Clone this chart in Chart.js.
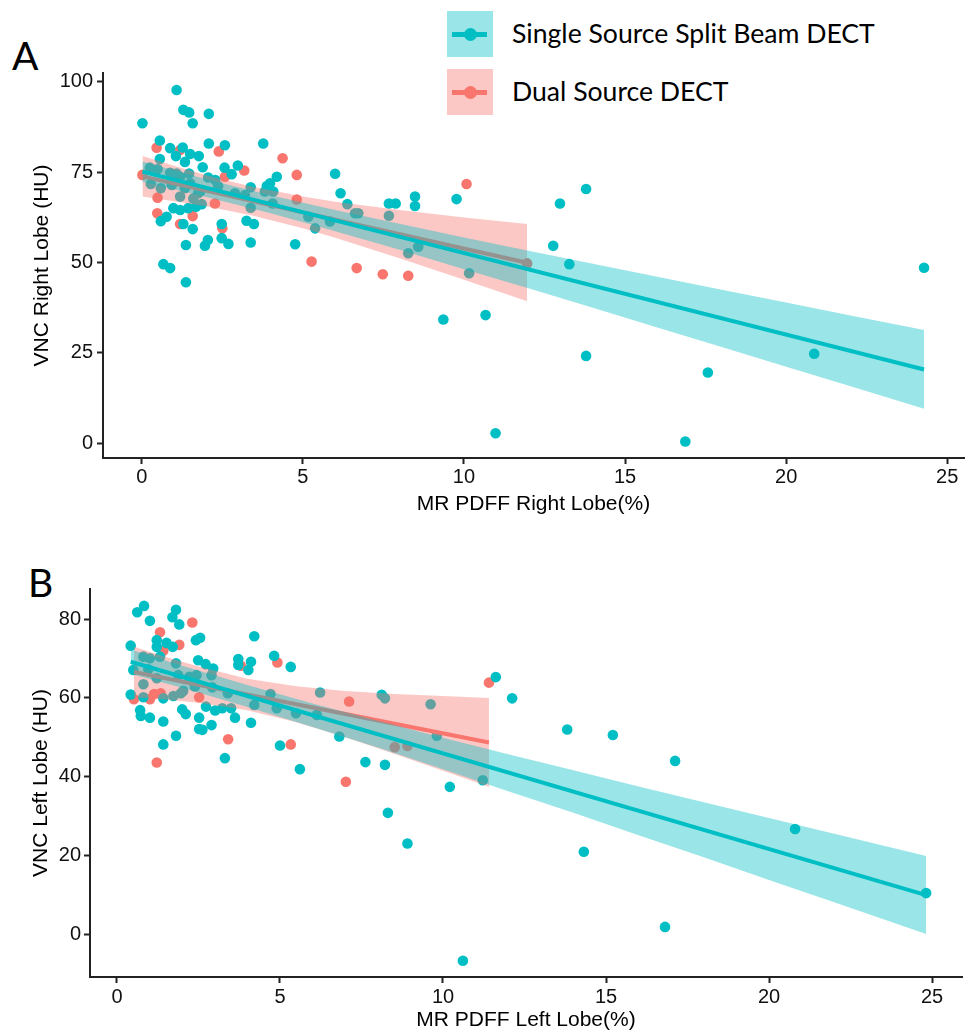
<!DOCTYPE html>
<html><head><meta charset="utf-8">
<script src="https://cdn.jsdelivr.net/npm/chart.js@4.4.0/dist/chart.umd.min.js"></script>
<style>
html,body{margin:0;padding:0;background:#fff;}
body{width:972px;height:1035px;position:relative;overflow:hidden;}
canvas{position:absolute;left:0;}
#cA{top:0px;} #cB{top:530px;}
.panel{position:absolute;font-family:Lato,sans-serif;font-size:39px;line-height:1.2;color:#000;}
.lgbox{position:absolute;left:447px;width:46px;height:46px;}
.lgline{position:absolute;left:5px;width:35px;height:5px;top:20.5px;}
.lgdot{position:absolute;left:16.5px;top:16.5px;width:13px;height:13px;border-radius:50%;}
.lgtxt{position:absolute;left:512px;font-family:Lato,sans-serif;font-size:26.6px;line-height:1.2;white-space:nowrap;color:#000;}
</style></head>
<body>
<div class="panel" style="left:12px;top:31.5px;">A</div>
<div class="panel" style="left:28px;top:558.5px;">B</div>
<div class="lgbox" style="top:11px;background:rgb(153,229,231);"><div class="lgline" style="background:#00BFC4"></div><div class="lgdot" style="background:#00BFC4"></div></div>
<div class="lgbox" style="top:69px;background:rgb(252,200,197);"><div class="lgline" style="background:#F8766D"></div><div class="lgdot" style="background:#F8766D"></div></div>
<div class="lgtxt" style="top:17.5px;">Single Source Split Beam DECT</div>
<div class="lgtxt" style="top:75.5px;">Dual Source DECT</div>
<canvas id="cA" width="972" height="530"></canvas>
<canvas id="cB" width="972" height="505"></canvas>
<script>
// ---------- Data ----------
const seriesNames = ['Single Source Split Beam DECT', 'Dual Source DECT'];
const xTicks = [0, 5, 10, 15, 20, 25];
const yTicksA = [0, 25, 50, 75, 100];
const yTicksB = [0, 20, 40, 60, 80];

// Panel A: right lobe
const aSingleX = [1.08,0.02,1.29,1.47,1.58,2.08,0.56,0.88,1.27,1.50,1.06,1.77,2.08,2.58,3.77,0.56,1.34,1.89,2.57,2.98,2.79,2.06,1.47,0.25,0.49,0.88,1.08,1.19,0.28,0.59,0.93,1.34,1.50,2.37,1.81,1.19,1.60,1.75,1.86,0.98,1.19,1.44,1.68,0.77,0.59,1.29,1.58,2.48,2.48,2.69,2.05,1.96,1.37,0.67,0.88,1.37,3.38,3.25,3.48,3.38,3.38,2.89,3.20,2.28,3.88,3.98,4.08,3.82,4.19,4.06,4.76,6.00,6.17,6.38,6.62,6.72,5.84,5.38,5.17,7.67,7.88,7.67,8.48,8.48,8.27,8.58,9.77,10.16,12.77,13.27,12.98,9.36,10.67,10.98,13.79,13.79,17.57,16.87,20.87,24.28];
const aSingleY = [97.7,88.5,92.2,91.5,88.5,91.1,83.7,81.6,81.8,80.0,79.4,79.4,82.9,82.4,82.9,78.6,77.8,76.3,76.2,76.8,74.4,73.5,74.6,76.2,75.8,74.8,74.6,73.7,71.7,70.5,71.4,70.5,71.9,71.1,69.6,68.2,67.7,69.1,66.1,65.0,64.5,65.0,65.4,62.6,61.4,60.6,59.2,60.6,56.7,55.1,56.2,54.6,54.8,49.5,48.4,44.5,55.5,61.5,60.6,65.1,70.8,69.1,68.6,72.8,71.1,71.9,69.6,69.6,73.7,66.3,55.0,74.5,69.1,66.1,63.6,63.6,61.3,59.4,62.6,66.3,66.3,62.9,68.2,65.6,52.5,54.3,67.5,47.0,54.6,49.5,66.3,34.2,35.4,2.7,70.3,24.1,19.5,0.4,24.7,48.5];
const aDualX = [0.46,1.19,2.39,4.37,3.18,2.58,0.02,0.49,2.27,0.48,1.58,1.19,2.50,4.81,4.81,5.27,6.67,7.48,8.27,10.08,11.96];
const aDualY = [81.7,81.1,80.7,78.8,75.4,73.7,74.2,67.9,66.3,63.6,62.8,60.6,59.4,74.2,67.4,50.2,48.4,46.7,46.3,71.7,49.7];

const aSingleFitX = [0.02, 24.28];
const aSingleFitY = [75.1, 20.35];
const aSingleBandX = [0.02, 2, 4, 6, 8, 10, 12, 14, 16, 18, 20, 22, 24.28];
const aSingleBandLo = [72.3, 68.1, 63.6, 58.6, 53.5, 48.1, 42.8, 37.4, 32.0, 26.6, 21.1, 15.7, 9.45];
const aSingleBandHi = [77.9, 73.0, 68.6, 64.5, 60.7, 56.9, 53.2, 49.6, 46.0, 42.4, 38.9, 35.3, 31.25];
const aDualFitX = [0.02, 11.96];
const aDualFitY = [73.8, 49.9];
const aDualBandX = [0.02, 1, 2, 3.4, 5, 6, 8, 10, 11.96];
const aDualBandLo = [68.2, 66.9, 65.5, 63.0, 59.4, 56.8, 51.1, 45.2, 39.2];
const aDualBandHi = [79.4, 76.7, 74.1, 71.0, 68.2, 66.8, 64.5, 62.4, 60.6];

// Panel B: left lobe
const bSingleX = [0.83,0.62,1.01,1.81,1.70,1.91,0.42,1.22,1.52,1.22,1.71,2.42,2.55,4.21,0.81,1.01,1.32,1.81,2.49,2.72,2.95,3.72,4.11,3.72,4.03,4.82,5.33,0.50,0.96,1.22,1.88,2.22,2.44,2.90,0.81,2.39,2.92,0.42,0.81,1.42,1.73,1.96,2.03,2.73,3.01,3.23,3.50,3.62,3.40,2.00,2.11,0.71,0.73,1.01,1.42,2.52,2.90,2.52,2.62,4.11,1.81,1.42,3.31,4.71,4.21,4.90,5.49,5.00,5.61,6.23,8.12,8.22,9.62,11.62,12.12,13.81,6.13,6.82,7.62,8.22,9.81,11.22,10.21,8.31,8.91,10.61,14.32,15.21,17.12,20.80,24.82,16.81];
const bSingleY = [83.4,81.8,79.6,82.4,80.5,78.7,73.3,74.7,74.0,73.0,73.0,74.7,75.3,75.7,70.5,70.1,70.5,68.8,69.6,68.6,67.5,69.9,69.2,68.4,67.1,70.7,67.9,67.1,67.3,65.0,65.8,65.4,65.8,65.8,63.5,62.9,62.7,60.9,60.2,59.9,60.5,61.2,61.8,57.8,56.8,57.4,57.4,55.0,61.2,57.1,55.9,56.9,55.4,55.0,54.0,55.0,53.1,52.1,51.9,53.7,50.4,48.2,44.7,61.0,58.2,57.4,56.1,47.9,41.9,61.4,60.8,59.9,58.4,65.3,59.9,52.0,55.7,50.2,43.7,43.0,50.4,39.1,37.4,30.8,23.0,-6.8,20.9,50.6,44.0,26.7,10.4,1.8];
const bDualX = [2.31,1.32,1.91,1.42,3.80,4.92,0.52,1.01,1.14,1.34,2.52,1.22,3.41,5.33,7.12,7.02,8.52,8.91,11.41];
const bDualY = [79.2,76.7,73.5,72.0,68.2,69.0,59.7,59.7,61.0,61.2,60.2,43.6,49.5,48.2,59.1,38.7,47.5,47.8,63.9];

const bSingleFitX = [0.42, 24.82];
const bSingleFitY = [69.2, 9.9];
const bSingleBandX = [0.42, 2, 4, 6, 8, 10, 12, 14, 16, 18, 20, 22, 24.82];
const bSingleBandLo = [66.1, 62.6, 57.7, 52.6, 47.4, 41.9, 36.3, 30.8, 25.1, 19.5, 13.7, 8.1, 0.0];
const bSingleBandHi = [72.3, 68.2, 63.3, 58.6, 54.2, 49.9, 45.7, 41.6, 37.5, 33.5, 29.5, 25.5, 19.8];
const bDualFitX = [0.52, 11.41];
const bDualFitY = [66.6, 48.7];
const bDualBandX = [0.52, 1.5, 2.5, 4, 5.5, 7, 8.5, 10, 11.41];
const bDualBandLo = [60.2, 59.6, 58.8, 56.9, 53.8, 50.0, 45.8, 41.5, 37.4];
const bDualBandHi = [73.0, 70.4, 68.0, 64.9, 63.0, 61.8, 61.0, 60.5, 60.0];

// ---------- Styles ----------
const TEAL = '#00BFC4', RED = '#F8766D';
const TEAL_FILL = 'rgba(0,191,196,0.4)', RED_FILL = 'rgba(248,118,109,0.4)';
const FONT = '"Liberation Sans", Arial, sans-serif';

const pts = (xs, ys) => xs.map((x, i) => ({x: x, y: ys[i]}));

function scatterSet(label, xs, ys, color, order) {
  return {label, data: pts(xs, ys), backgroundColor: color, borderColor: color,
    pointRadius: 5.3, pointHoverRadius: 5.3, pointBorderWidth: 0, order};
}
function bandSets(xs, lo, hi, fillColor, order) {
  return [
    {type: 'line', data: pts(xs, hi), borderColor: 'rgba(0,0,0,0)', borderWidth: 1, pointRadius: 0,
      fill: '+1', backgroundColor: fillColor, tension: 0, order},
    {type: 'line', data: pts(xs, lo), borderColor: 'rgba(0,0,0,0)', borderWidth: 1, pointRadius: 0,
      fill: false, tension: 0, order}
  ];
}
function fitSet(xs, ys, color, order) {
  return {type: 'line', data: pts(xs, ys), borderColor: color, borderWidth: 4, pointRadius: 0,
    fill: false, tension: 0, order};
}

function axisCommon() {
  return {
    type: 'linear',
    grid: {display: true, drawOnChartArea: false, drawTicks: true, tickLength: 6, tickColor: '#222', tickWidth: 2},
    border: {display: true, color: '#222', width: 2},
  };
}

function makeChart(id, cfg) {
  const xs = Object.assign(axisCommon(), {
    min: cfg.xMin, max: cfg.xMax,
    afterBuildTicks: s => { s.ticks = xTicks.map(v => ({value: v})); },
    afterFit: s => { s.height = cfg.xAxisH; },
    ticks: {autoSkip: false, maxRotation: 0, padding: cfg.xTickPad, color: '#111', font: {family: FONT, size: 20}},
    title: {display: true, text: cfg.xTitle, color: '#000', font: {family: FONT, size: 21}, padding: {top: 0, bottom: cfg.xTitlePad}}
  });
  const ys = Object.assign(axisCommon(), {
    min: cfg.yMin, max: cfg.yMax,
    afterBuildTicks: s => { s.ticks = cfg.yTicks.map(v => ({value: v})); },
    afterFit: s => { s.width = cfg.yAxisW; },
    ticks: {autoSkip: false, padding: cfg.yTickPad, color: '#111', font: {family: FONT, size: 20}},
    title: {display: true, text: cfg.yTitle, color: '#000', font: {family: FONT, size: 21}, padding: {top: cfg.yTitlePad, bottom: 0}}
  });
  return new Chart(document.getElementById(id), {
    type: 'scatter',
    data: {datasets: [
      scatterSet(seriesNames[1], cfg.dualX, cfg.dualY, RED, 11),
      scatterSet(seriesNames[0], cfg.singleX, cfg.singleY, TEAL, 10),
      ...bandSets(cfg.dualBandX, cfg.dualBandLo, cfg.dualBandHi, RED_FILL, 8),
      fitSet(cfg.dualFitX, cfg.dualFitY, RED, 7),
      ...bandSets(cfg.singleBandX, cfg.singleBandLo, cfg.singleBandHi, TEAL_FILL, 6),
      fitSet(cfg.singleFitX, cfg.singleFitY, TEAL, 5)
    ]},
    options: {
      responsive: false, animation: false, devicePixelRatio: 1, events: [],
      layout: {padding: cfg.padding},
      plugins: {legend: {display: false}, tooltip: {enabled: false}},
      scales: {x: xs, y: ys}
    }
  });
}

makeChart('cA', {
  xMin: -1.204, xMax: 25.52, yMin: -4.15, yMax: 102.4, yTicks: yTicksA,
  xAxisH: 72, yAxisW: 103, xTickPad: 1, yTickPad: 4, xTitlePad: 13.4, yTitlePad: 29.4,
  padding: {top: 73, right: 8, left: 0, bottom: 0},
  xTitle: 'MR PDFF Right Lobe(%)', yTitle: 'VNC Right Lobe (HU)',
  singleX: aSingleX, singleY: aSingleY, dualX: aDualX, dualY: aDualY,
  singleFitX: aSingleFitX, singleFitY: aSingleFitY, singleBandX: aSingleBandX, singleBandLo: aSingleBandLo, singleBandHi: aSingleBandHi,
  dualFitX: aDualFitX, dualFitY: aDualFitY, dualBandX: aDualBandX, dualBandLo: aDualBandLo, dualBandHi: aDualBandHi
});

makeChart('cB', {
  xMin: -0.828, xMax: 25.92, yMin: -10.93, yMax: 87.7, yTicks: yTicksB,
  xAxisH: 58, yAxisW: 90, xTickPad: 2, yTickPad: 3, xTitlePad: 2.4, yTitlePad: 28.4,
  padding: {top: 59, right: 10, left: 0, bottom: 0},
  xTitle: 'MR PDFF Left Lobe(%)', yTitle: 'VNC Left Lobe (HU)',
  singleX: bSingleX, singleY: bSingleY, dualX: bDualX, dualY: bDualY,
  singleFitX: bSingleFitX, singleFitY: bSingleFitY, singleBandX: bSingleBandX, singleBandLo: bSingleBandLo, singleBandHi: bSingleBandHi,
  dualFitX: bDualFitX, dualFitY: bDualFitY, dualBandX: bDualBandX, dualBandLo: bDualBandLo, dualBandHi: bDualBandHi
});
</script>
</body></html>
